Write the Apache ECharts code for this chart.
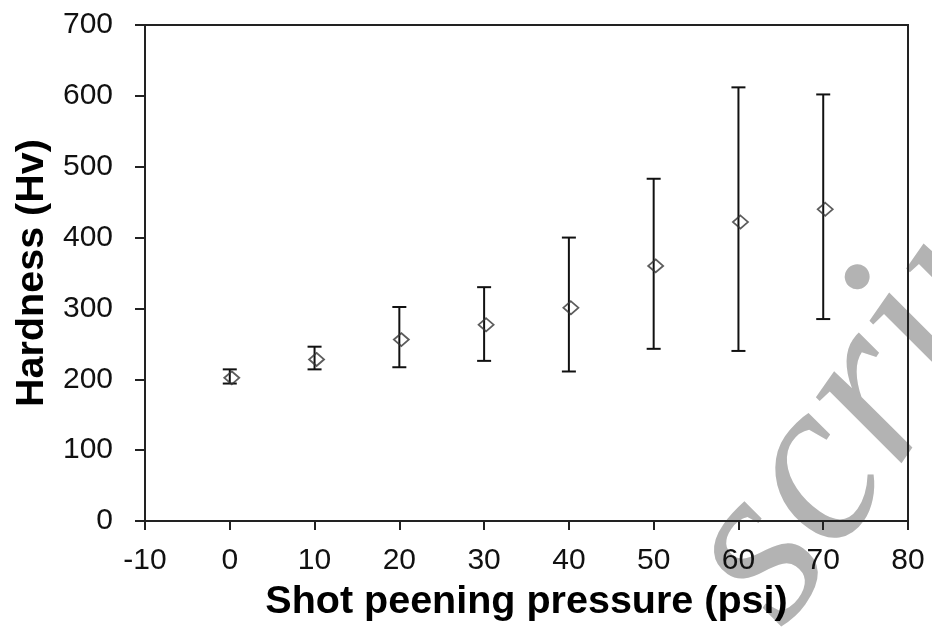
<!DOCTYPE html>
<html>
<head>
<meta charset="utf-8">
<script src="https://cdn.jsdelivr.net/npm/echarts@6/dist/echarts.min.js"></script>
<style>html,body{margin:0;padding:0;background:#fff;}#c{width:932px;height:630px;}</style>
</head>
<body>
<div id="c"></div>
<script>
// Data
const pressure = [0, 10, 20, 30, 40, 50, 60, 70];
const hardness = [202, 228, 256, 277, 301, 360, 422, 440];
const errLow   = [194, 214, 217, 226, 211, 243, 240, 285];
const errHigh  = [214, 246, 302, 330, 400, 483, 612, 602];
const xTicks = [-10, 0, 10, 20, 30, 40, 50, 60, 70, 80];
const yTicks = [0, 100, 200, 300, 400, 500, 600, 700];

const FONT = '"Liberation Sans", Arial, sans-serif';
const chart = echarts.init(document.getElementById('c'), null, {renderer: 'canvas'});

const scatterData = pressure.map((p, i) => [p, hardness[i]]);
const errData = pressure.map((p, i) => [p, errLow[i], errHigh[i]]);

chart.setOption({
  animation: false,
  backgroundColor: '#fff',
  grid: {left: 145, right: 24, top: 25, bottom: 109, show: true, borderColor: '#222', borderWidth: 2, backgroundColor: 'transparent'},
  graphic: [{
    // background watermark fragment (decoration only)
    type: 'text', silent: true, z: -10,
    x: 733, y: 596, rotation: 55 * Math.PI / 180,
    style: {text: 'script', font: 'italic 235px "Liberation Serif", serif', fill: '#b3b3b3', textAlign: 'left', textVerticalAlign: 'middle'}
  }],
  xAxis: {
    type: 'value', min: xTicks[0], max: xTicks[xTicks.length - 1], interval: 10,
    splitLine: {show: false},
    axisLine: {show: true, onZero: false, lineStyle: {color: '#222', width: 2}},
    axisTick: {show: true, inside: false, length: 9, lineStyle: {color: '#222', width: 2}},
    axisLabel: {fontFamily: FONT, fontSize: 30, color: '#111', margin: 25},
    name: 'Shot peening pressure (psi)', nameLocation: 'middle', nameGap: 61,
    nameTextStyle: {fontFamily: FONT, fontSize: 39.5, fontWeight: 'bold', color: '#000'}
  },
  yAxis: {
    type: 'value', min: yTicks[0], max: yTicks[yTicks.length - 1], interval: 100,
    splitLine: {show: false},
    axisLine: {show: true, onZero: false, lineStyle: {color: '#222', width: 2}},
    axisTick: {show: true, inside: false, length: 10, lineStyle: {color: '#222', width: 2}},
    axisLabel: {fontFamily: FONT, fontSize: 30, color: '#111', margin: 32},
    name: 'Hardness (Hv)', nameLocation: 'middle', nameGap: 92,
    nameTextStyle: {fontFamily: FONT, fontSize: 39.5, fontWeight: 'bold', color: '#000'}
  },
  series: [
    {
      type: 'custom', z: 3,
      data: errData,
      renderItem: function (params, api) {
        const x = api.value(0);
        const lo = api.coord([x, api.value(1)]);
        const hi = api.coord([x, api.value(2)]);
        const hw = 7;
        const st = {stroke: '#111', lineWidth: 2};
        return {type: 'group', children: [
          {type: 'line', shape: {x1: lo[0], y1: lo[1], x2: hi[0], y2: hi[1]}, style: st},
          {type: 'line', shape: {x1: lo[0] - hw, y1: lo[1], x2: lo[0] + hw, y2: lo[1]}, style: st},
          {type: 'line', shape: {x1: hi[0] - hw, y1: hi[1], x2: hi[0] + hw, y2: hi[1]}, style: st}
        ]};
      }
    },
    {
      type: 'scatter', z: 4,
      data: scatterData,
      symbol: 'diamond', symbolSize: [15, 13], symbolOffset: [2, 0],
      itemStyle: {color: 'transparent', borderColor: '#333', borderWidth: 1.8}
    }
  ]
});
</script>
</body>
</html>
